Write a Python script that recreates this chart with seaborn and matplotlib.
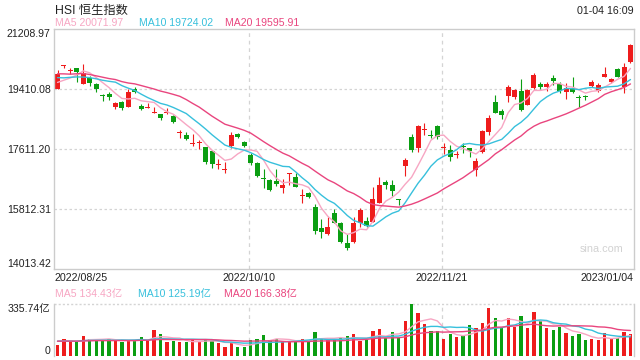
import numpy as np
import pandas as pd
import matplotlib
matplotlib.use("Agg")
import matplotlib.pyplot as plt
import matplotlib.transforms as mtrans
import seaborn as sns

# ---------------- data ----------------
tick_labels = ["2022/08/25", "2022/10/10", "2022/11/21", "2023/01/04"]
tick_index = [0, 30, 60, 89]

open_ = [19410, 20100, 19970, 20040, 19560, 19760, 19560, 19240, 19260, 18890,
         19040, 18890, 19410, 18920, 18840, 18700, 18660, 18700, 18610, 18090,
         18040, 17770, 17810, 17680, 17560, 17150, 16990, 17720, 18080, 17830,
         17440, 17190, 16750, 16690, 16660, 16460, 16880, 16770, 16210, 16310,
         15870, 15240, 15070, 15700, 15410, 14810, 14840, 15390, 15460, 15440,
         16010, 16640, 16540, 16110, 17110, 17990, 17640, 18180, 18050, 18310,
         17640, 17590, 17450, 17700, 17660, 16990, 17540, 18140, 19040, 18770,
         19220, 19190, 19360, 18940, 19440, 19570, 19470, 19740, 19570, 19340,
         19440, 19150, 19200, 19510, 19370, 19790, 19640, 20010, 19490, 20240]
high = [19990, 20150, 20060, 20040, 20160, 19820, 19590, 19270, 19320, 19040,
        19060, 19410, 19470, 18960, 18990, 18870, 18680, 18840, 18640, 18190,
        18120, 18060, 17890, 17680, 17590, 17310, 17240, 18140, 18110, 17870,
        17490, 17240, 17010, 16710, 17010, 16720, 16900, 16910, 16420, 16340,
        15970, 15530, 15570, 15810, 15440, 15060, 15590, 15840, 15590, 16490,
        16790, 16690, 16690, 16120, 17340, 18070, 18340, 18410, 18190, 18340,
        17790, 17740, 17570, 17790, 17660, 17340, 18190, 18640, 19240, 18820,
        19540, 19410, 19710, 19410, 19910, 19640, 19640, 19840, 19640, 19590,
        19770, 19240, 19240, 19690, 19590, 20070, 19740, 20040, 20190, 20770]
low = [19410, 20040, 19880, 19640, 19560, 19520, 19340, 19060, 19090, 18810,
       18790, 18890, 19290, 18790, 18840, 18690, 18480, 18660, 18410, 17960,
       17890, 17720, 17620, 17170, 17040, 17010, 16890, 17660, 17960, 17690,
       17140, 16790, 16440, 16370, 16520, 16290, 16540, 16470, 15990, 16140,
       15070, 14940, 15040, 15390, 14810, 14590, 14810, 15270, 15270, 15440,
       15990, 16410, 16210, 15940, 16810, 17520, 17540, 18040, 17940, 17910,
       17470, 17270, 17340, 17510, 17390, 16810, 17510, 18040, 18690, 18510,
       19020, 19110, 18770, 18940, 19410, 19410, 19370, 19540, 19290, 19110,
       19290, 18870, 19090, 19490, 19340, 19770, 19590, 19770, 19290, 20210]
close = [19880, 20110, 19990, 19940, 19890, 19590, 19420, 19220, 19190, 19010,
         18840, 19340, 19320, 18820, 18880, 18720, 18540, 18730, 18440, 18120,
         17920, 17790, 17830, 17220, 17160, 17170, 17010, 18040, 17990, 17720,
         17190, 16820, 16730, 16390, 16570, 16540, 16900, 16490, 16230, 16190,
         15170, 15140, 15270, 15410, 14840, 14640, 15410, 15790, 15310, 16110,
         16540, 16540, 16360, 16090, 17290, 17590, 18310, 18200, 18020, 17990,
         17660, 17370, 17470, 17680, 17570, 17260, 18160, 18560, 18710, 18640,
         19470, 19390, 18790, 19390, 19840, 19470, 19570, 19660, 19370, 19440,
         19340, 19140, 19190, 19640, 19540, 19870, 19710, 19790, 20070, 20740]
# closes before the window (estimated so the MA lines start where the picture shows)
prior_close = [20156, 20165, 19689, 19767, 20174, 20201, 20045, 20003, 19610, 20082,
               20175, 19830, 19831, 19922, 19763, 19773, 19657, 19504, 19268]

volume = [66, 105, 92, 92, 125, 105, 110, 99, 105, 99,
          88, 99, 99, 120, 94, 165, 138, 88, 92, 88,
          88, 99, 88, 110, 92, 81, 59, 81, 55, 55,
          99, 105, 132, 99, 110, 92, 92, 92, 105, 92,
          153, 110, 105, 105, 114, 125, 138, 92, 99, 158,
          171, 114, 151, 114, 224, 335.74, 278, 204, 158, 158,
          110, 138, 120, 125, 197, 180, 213, 311, 246, 180,
          246, 186, 259, 180, 285, 224, 180, 165, 186, 147,
          127, 138, 99, 105, 99, 147, 105, 114, 153, 138]
prior_volume = [92, 88, 101, 95, 90, 86, 97, 104, 93, 89,
                95, 99, 91, 87, 96, 102, 94, 98, 110]

price_ticks = [14013.42, 15812.31, 17611.20, 19410.08, 21208.97]
vol_ticks = [0, 335.74]
vol_tick_labels = ["0", "335.74亿"]

title = "HSI 恒生指数"
timestamp = "01-04 16:09"
ma_price_labels = ["MA5 20071.97", "MA10 19724.02", "MA20 19595.91"]
ma_vol_labels = ["MA5 134.43亿", "MA10 125.19亿", "MA20 166.38亿"]
ma_windows = [5, 10, 20]

# ---------------- style ----------------
sns.set_theme(style="white")
plt.rcParams["font.family"] = ["Liberation Sans", "Noto Sans CJK SC", "DejaVu Sans"]

RED = "#EE1C1C"
GREEN = "#0B9E12"
MA_COLORS = ["#F7A6C3", "#37C0DC", "#E9457E"]
GRID = "#d4d4d4"
SPINE = "#cccccc"
TXT = "#222222"

W, H = 640, 360
fig = plt.figure(figsize=(6.4, 3.6), dpi=100)
fig.patch.set_facecolor("white")

L, R = 54.3, 633.7
ax = fig.add_axes([L / W, 1 - 269.3 / H, (R - L) / W, 240 / H])
axv = fig.add_axes([L / W, 1 - 355.5 / H, (R - L) / W, (355.5 - 304.3) / H])

n = len(close)
idx = np.arange(n)
o = np.array(open_, float); c = np.array(close, float)
hi = np.array(high, float); lo = np.array(low, float)
colors = [RED if cc >= oo else GREEN for oo, cc in zip(o, c)]

# ---- candles ----
ax.vlines(idx, lo, hi, colors=colors, linewidth=0.8, zorder=2)
body_bottom = np.minimum(o, c)
body_h = np.maximum(np.abs(c - o), 28)
ax.bar(idx, body_h, bottom=body_bottom, width=0.78, color=colors, linewidth=0, zorder=2)

# ---- moving averages ----
def ma_frame(values, prior):
    s = pd.Series(list(prior) + list(values), dtype=float)
    rows = []
    for w in ma_windows:
        m = s.rolling(w).mean().iloc[len(prior):].to_numpy()
        rows.append(pd.DataFrame({"idx": idx, "value": m, "ma": f"MA{w}"}))
    return pd.concat(rows, ignore_index=True)

pal = {f"MA{w}": col for w, col in zip(ma_windows, MA_COLORS)}
sns.lineplot(data=ma_frame(close, prior_close), x="idx", y="value", hue="ma",
             palette=pal, legend=False, ax=ax, linewidth=1.0, estimator=None,
             sort=False, zorder=3)

# ---- volume ----
axv.bar(idx, volume, width=0.5, color=colors, linewidth=0, zorder=2)
sns.lineplot(data=ma_frame(volume, prior_volume), x="idx", y="value", hue="ma",
             palette=pal, legend=False, ax=axv, linewidth=1.0, estimator=None,
             sort=False, zorder=3)

# ---- axes cosmetics ----
for a in (ax, axv):
    a.set_xlim(-0.5, 89.5)
    a.set_xlabel(""); a.set_ylabel("")
    a.set_xticks([])
    a.tick_params(axis="y", length=0, pad=2.5, labelsize=7.6, labelcolor=TXT)
    a.set_facecolor("white")
    for ti in tick_index[1:3]:
        a.axvline(ti - 0.3, color=GRID, linewidth=0.9, linestyle=(0, (3, 3)), zorder=1)

ax.set_ylim(price_ticks[0], price_ticks[-1])
ax.set_yticks(price_ticks)
ax.set_yticklabels([f"{v:.2f}" for v in price_ticks])
for v in price_ticks[1:-1]:
    ax.axhline(v, color=GRID, linewidth=0.9, linestyle=(0, (2, 2)), zorder=1)
for sp in ax.spines.values():
    sp.set_color(SPINE); sp.set_linewidth(1.0)
ylabs = ax.get_yticklabels()
ylabs[0].set_verticalalignment("bottom")
ylabs[-1].set_verticalalignment("top")

axv.set_ylim(vol_ticks[0], vol_ticks[-1])
axv.set_yticks(vol_ticks)
axv.set_yticklabels(vol_tick_labels)
axv.axhline(vol_ticks[-1], color=GRID, linewidth=1.0, linestyle=(0, (1.5, 1.5)), zorder=1, clip_on=False)
axv.spines["top"].set_visible(False)
axv.spines["bottom"].set_visible(False)
for s in ("left", "right"):
    axv.spines[s].set_color(SPINE); axv.spines[s].set_linewidth(1.0)
vlabs = axv.get_yticklabels()
vlabs[0].set_verticalalignment("bottom")
vlabs[-1].set_verticalalignment("top")

# ---- date labels ----
tr = mtrans.blended_transform_factory(ax.transData, fig.transFigure)
ydate = 1 - 277.7 / H
aligns = ["left", "center", "center", "right"]
xs = [-0.5, tick_index[1] - 0.3, tick_index[2] - 0.3, 89.5]
for x, lab, ha in zip(xs, tick_labels, aligns):
    fig.text(x, ydate, lab, transform=tr, ha=ha, va="center", fontsize=7.7, color=TXT)

# ---- header texts ----
def px(x, y):
    return x / W, 1 - y / H

fig.text(*px(55, 10.5), title, ha="left", va="center", fontsize=8.8, color=TXT)
fig.text(*px(634, 10.5), timestamp, ha="right", va="center", fontsize=7.7, color=TXT)
for x, lab, col in zip([55, 139, 225], ma_price_labels, MA_COLORS):
    fig.text(*px(x, 23.5), lab, ha="left", va="center", fontsize=7.6, color=col)
for x, lab, col in zip([55, 138, 224], ma_vol_labels, MA_COLORS):
    fig.text(*px(x, 294), lab, ha="left", va="center", fontsize=7.6, color=col)

fig.text(*px(602, 249), "sina.com", ha="center", va="center", fontsize=7.8, color="#d2d2d2")

fig.savefig("out.png", dpi=100, facecolor="white")
